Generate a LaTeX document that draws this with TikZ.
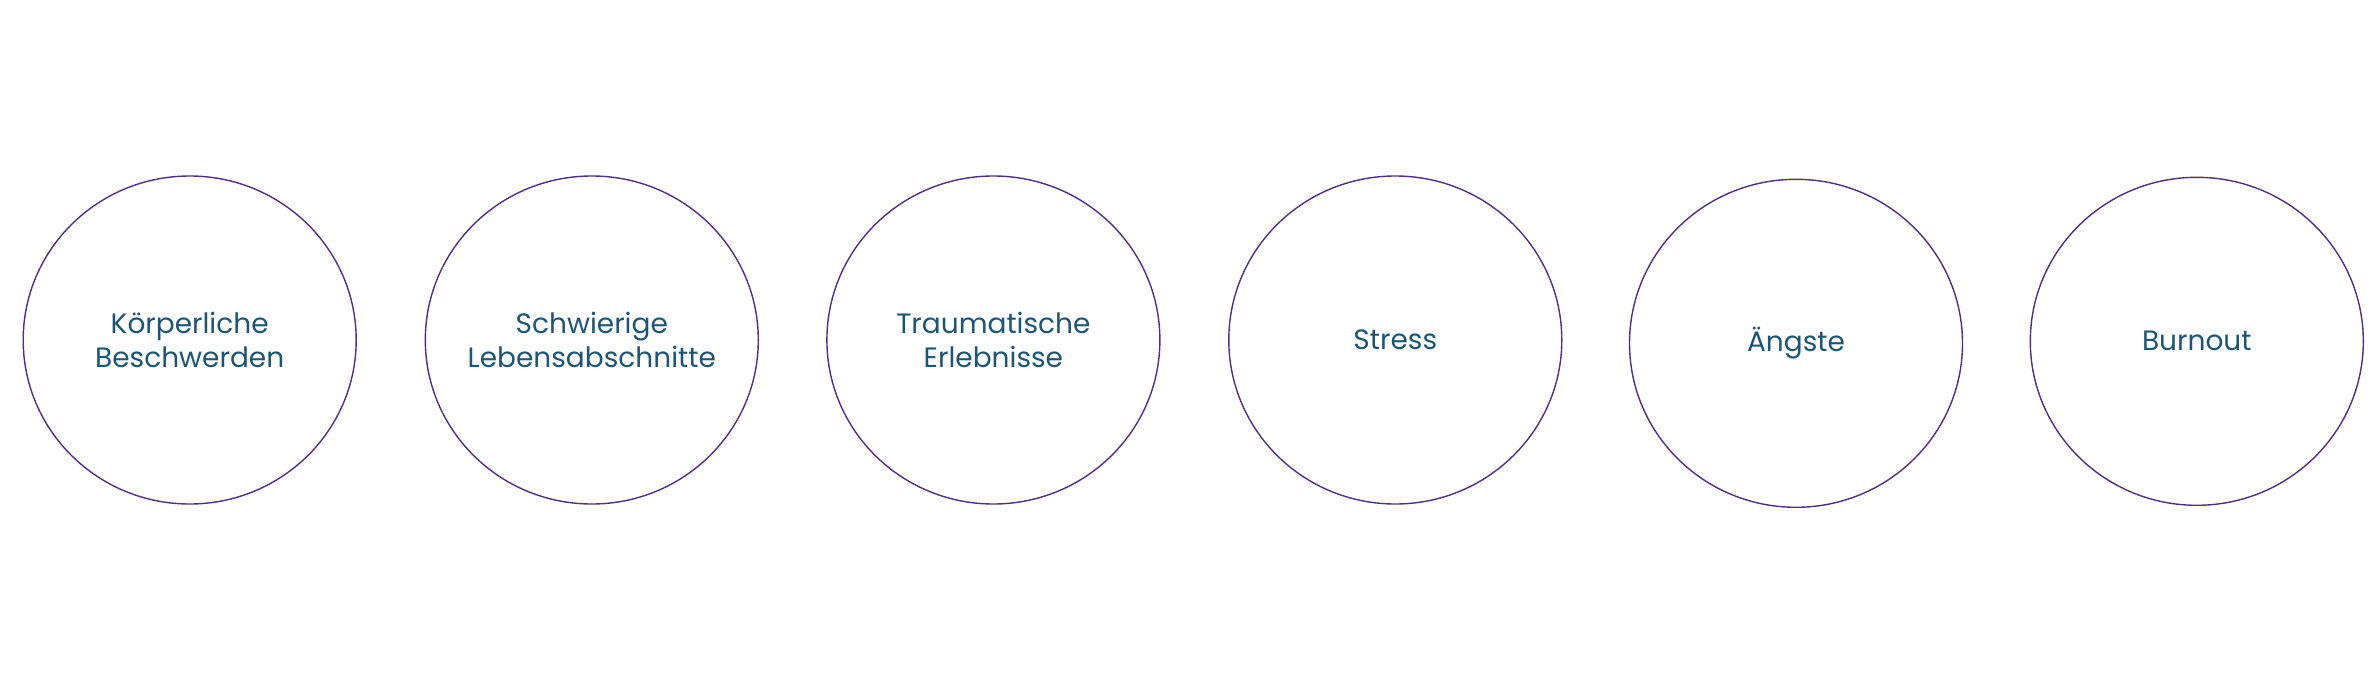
\documentclass[tikz,border=0pt]{standalone}
\usepackage{fontspec}
\setmainfont{Poppins}
\usepackage{tikz}
\usetikzlibrary{positioning, shapes.geometric}

\definecolor{ringpurple}{RGB}{78,48,132}
\definecolor{labelblue}{RGB}{28,86,118}

\begin{document}
\begin{tikzpicture}[
    x=1pt, y=-1pt,
    cause/.style={ellipse, draw=ringpurple, line width=1.4pt,
        minimum width=333pt, minimum height=328pt, inner sep=-30pt,
        align=center, text=labelblue,
        font=\fontsize{28}{34}\selectfont}
]

% Canvas
\useasboundingbox (0,0) rectangle (2378,693);

% Row of causes
\node[cause] (koerper) at (189.7, 340) {Körperliche\\Beschwerden};
\node[cause] (leben) at (591.8, 340) {Schwierige\\Lebensabschnitte};
\node[cause] (trauma) at (993.4, 340) {Traumatische\\Erlebnisse};
\node[cause] (stress) at (1395.3, 340) {Stress};
\node[cause] (angst) at (1796, 343.3) {Ängste};
\node[cause] (burnout) at (2196.8, 341.3) {Burnout};

\end{tikzpicture}
\end{document}
